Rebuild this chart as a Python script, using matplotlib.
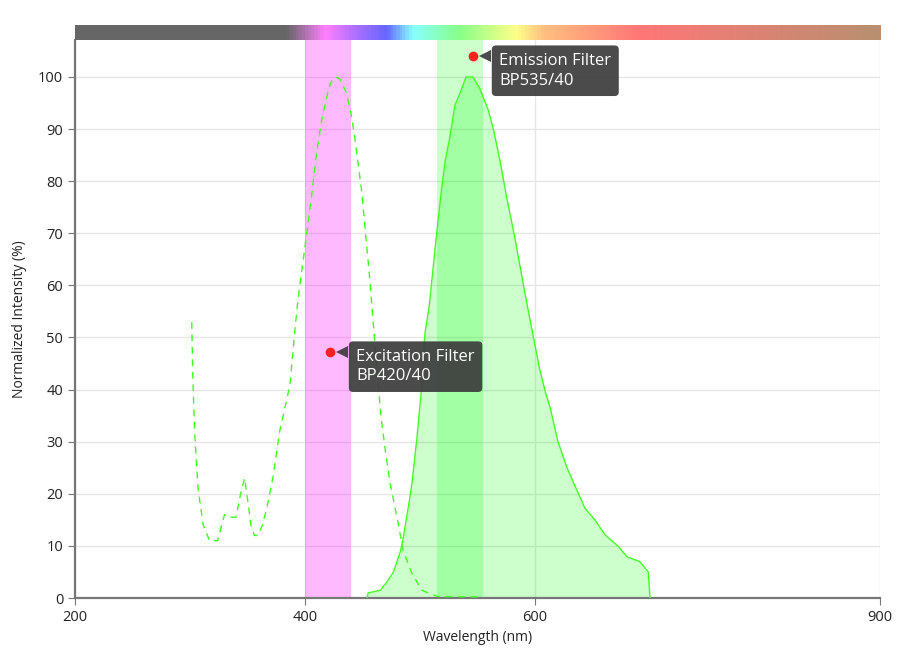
import numpy as np
import matplotlib
matplotlib.use("Agg")
import matplotlib.pyplot as plt
from matplotlib.colors import LinearSegmentedColormap
from matplotlib import transforms

plt.rcParams['font.family'] = ['Open Sans', 'DejaVu Sans']

# excitation spectrum (dashed)
ex_nm = [301.5, 302.5, 304, 307, 311.5, 317, 324, 327, 330, 333, 340, 344, 347.5, 350,
         353, 356, 359, 363, 367, 372, 378, 383, 387, 391, 394, 398.5, 401.5, 406, 410,
         414.5, 419, 422, 426, 430, 436, 440.5, 443.5, 446.5, 449.5, 452, 456, 460, 463,
         466, 470, 474, 480, 485.5, 493, 501.5, 509, 515, 550]
ex_val = [53, 42, 32, 21, 14, 11, 11, 13.5, 16, 15.5, 15.5, 20, 23, 19,
          14, 12, 12, 14, 17.5, 23, 32, 37, 41, 51, 57.5, 65, 70, 77.7, 85.3,
          91.7, 96.2, 98.8, 100, 99.7, 97, 92.4, 88, 82.8, 77.7, 71.5, 62, 51, 43,
          35, 28, 22, 15.5, 9, 4.7, 1.5, 0.8, 0.3, 0.2]

# emission spectrum (filled)
em_nm = [454, 455, 466, 467, 471, 474, 477, 480, 483, 485, 488, 491, 493, 497, 501.5,
         504.3, 508, 514.5, 519, 522, 526, 530.4, 535, 540, 546, 552, 559.4, 564, 569.5,
         575.3, 582.6, 590, 594, 598.5, 604, 609, 613, 620, 627.5, 635, 643.5, 652, 661,
         672.5, 680, 691, 698.5, 700]
em_val = [0, 1, 1.5, 2, 3, 4, 5, 7, 9, 11, 15, 19, 22, 30, 40.5,
          50.8, 56, 70, 79, 84, 88.5, 94.6, 97, 100, 100, 97.8, 93.6, 89.8, 84,
          77, 69, 60, 55.3, 50.2, 44, 39.5, 36.7, 30, 25.2, 21.4, 17.2, 15, 12.1,
          9.9, 7.9, 7, 5, 0]

ex_filter = (400, 440)
em_filter = (515, 555)
filter_names = ["Excitation Filter\nBP420/40", "Emission Filter\nBP535/40"]
filter_dot_x = [421.7, 546]
filter_dot_y = [47.2, 104]

# visible spectrum strip on top
strip_nm = [200, 383, 417, 442, 470, 493, 534, 584, 607, 689, 900]
strip_colors = ['#666666', '#666666', '#ff80ff', '#b070ff', '#6666ff', '#88ffff',
                '#88ff88', '#ffff88', '#ffc080', '#ff7777', '#b89070']

fig = plt.figure(figsize=(9, 6.5), dpi=100)
ax = fig.add_axes([75/900, 52/650, 805/900, 558/650])
bar = fig.add_axes([75/900, 610/650, 805/900, 15/650])

cmap = LinearSegmentedColormap.from_list(
    'spec', [((n - 200) / 700, c) for n, c in zip(strip_nm, strip_colors)])
bar.imshow(np.linspace(0, 1, 700).reshape(1, -1), aspect='auto', cmap=cmap,
           extent=[200, 900, 0, 1])
bar.set_xlim(200, 900)
bar.axis('off')

ax.axvspan(*ex_filter, color=(1, 0, 1), alpha=0.27, lw=0, zorder=1)
ax.axvspan(*em_filter, color=(0, 1, 0), alpha=0.2, lw=0, zorder=1)
ax.fill_between(em_nm, em_val, color=(0, 1, 0), alpha=0.2, lw=0, zorder=2)
ax.plot(em_nm, em_val, color='#44ff22', lw=1, zorder=3)
ax.plot(ex_nm, ex_val, color='#44ff22', lw=1, ls=(0, (5, 4)), zorder=3)

box_c = '#3c3c3c'
for name, x, y in zip(filter_names, filter_dot_x, filter_dot_y):
    ax.plot(x, y, 'o', color='#ff2020', ms=6, zorder=6, clip_on=False)
    tr = transforms.offset_copy(ax.transData, fig=fig, x=8.5, y=0, units='points')
    ax.plot(x, y, marker='<', ms=8, color=box_c, alpha=0.92, mew=0,
            transform=tr, zorder=7, clip_on=False)
    ax.annotate(name, (x, y), xytext=(19, -10.5), textcoords='offset points',
                ha='left', va='center', fontsize=12, color='white', linespacing=1.3,
                bbox=dict(boxstyle='round,pad=0.45,rounding_size=0.25', fc=box_c,
                          ec='none', alpha=0.92),
                zorder=7)

ax.set_xlim(200, 900)
ax.set_ylim(0, 107.1)
ax.set_xticks([200, 400, 600, 900])
ax.set_yticks(np.arange(0, 101, 10))
ax.grid(True, color='#e6e6e6', lw=1)
ax.set_axisbelow(True)
for s in ['top', 'right']:
    ax.spines[s].set_visible(False)
for s in ['left', 'bottom']:
    ax.spines[s].set_color('#777777')
    ax.spines[s].set_linewidth(1.6)
ax.tick_params(direction='out', length=5, color='#777777', labelcolor='#222222',
               labelsize=10.5)
ax.set_xlabel('Wavelength (nm)', fontsize=10, color='#222222', labelpad=4)
ax.set_ylabel('Normalized Intensity (%)', fontsize=10, color='#222222', labelpad=8)

fig.savefig('out.png', dpi=100)
